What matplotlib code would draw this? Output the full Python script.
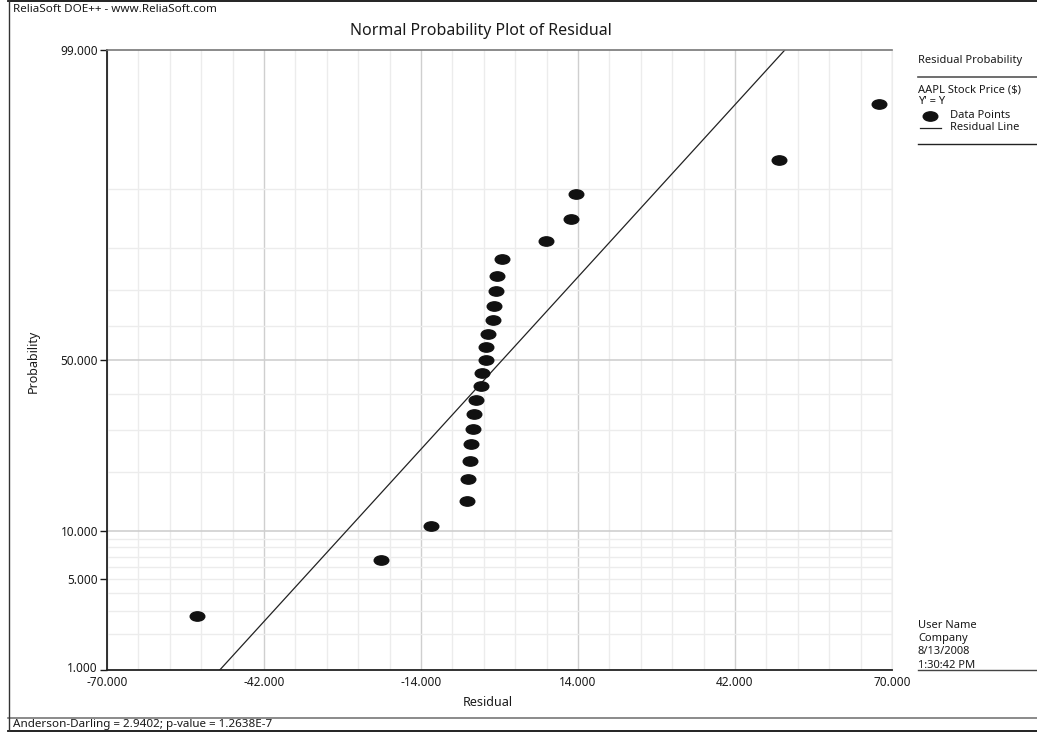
import numpy as np
import matplotlib
matplotlib.use("Agg")
import matplotlib.pyplot as plt
from matplotlib.lines import Line2D
from matplotlib.path import Path
from matplotlib.transforms import Affine2D, ScaledTranslation
from statistics import NormalDist

plt.rcParams['font.family'] = ['Noto Sans', 'DejaVu Sans']

# Residuals (x) and their median-rank probabilities in percent (y)
residuals = [-54.0, -21.1, -12.2, -5.8, -5.6, -5.3, -5.1, -4.7, -4.5, -4.2,
             -3.3, -3.1, -2.4, -2.4, -2.05, -1.2, -1.0, -0.6, -0.45, 0.45,
             8.3, 12.75, 13.6, 49.85, 67.7]
probabilities = [2.756, 6.693, 10.630, 14.567, 18.504, 22.441, 26.378, 30.315,
                 34.252, 38.189, 42.126, 46.063, 50.000, 53.937, 57.874,
                 61.811, 65.748, 69.685, 73.622, 77.559, 81.496, 85.433,
                 89.370, 93.307, 97.244]

# Fitted normal residual line
line_mean = 0.5
line_sd = 21.66

x_ticks = [-70, -42, -14, 14, 42, 70]
y_ticks = [1, 5, 10, 50, 99]
y_grid_minor = [2, 3, 4, 5, 6, 7, 8, 9, 20, 30, 40, 60, 70, 80, 90]
y_grid_major = [10, 50]

W, H = 1037, 732
fig = plt.figure(figsize=(W / 100, H / 100), dpi=100)

def fx(px):
    return px / W

def fy(py):
    return 1 - py / H

ax = fig.add_axes([fx(107), fy(670), (892 - 107) / W, (670 - 50) / H])

nd = NormalDist()
_ppf = np.vectorize(nd.inv_cdf, otypes=[float])
_cdf = np.vectorize(nd.cdf, otypes=[float])

def forward(p):
    p = np.clip(np.asarray(p, dtype=float), 1e-9, 100 - 1e-9)
    return _ppf(p / 100.0)

def inverse(z):
    return _cdf(np.asarray(z, dtype=float)) * 100.0

ax.set_yscale('function', functions=(forward, inverse))
ax.set_xlim(-70, 70)
ax.set_ylim(1, 99)

# Grid
light = '#ececec'
mid = '#cfcfcf'
for v in np.arange(-70, 70.01, 5.6):
    is_major = any(abs(v - t) < 1e-6 for t in x_ticks)
    ax.axvline(v, color=mid if is_major else light, lw=1.0, zorder=0)
for v in y_grid_minor:
    ax.axhline(v, color=light, lw=1.0, zorder=0)
for v in y_grid_major:
    ax.axhline(v, color=mid, lw=1.2, zorder=0)

# Residual line
xs = np.linspace(-70, 70, 400)
ps = inverse((xs - line_mean) / line_sd)
ax.plot(xs, ps, color='#222222', lw=0.9, zorder=2)

# Data points as flat ellipses
ellipse = Path.unit_circle().transformed(Affine2D().scale(1.0, 0.64))
ax.plot(residuals, probabilities, linestyle='none', marker=ellipse,
        markersize=10.5, color='#111111', zorder=3, clip_on=False)

ax.set_xticks(x_ticks)
ax.set_xticklabels([f"{t:.3f}" for t in x_ticks])
ax.set_yticks(y_ticks)
ax.set_yticklabels([f"{t:.3f}" for t in y_ticks])
ax.yaxis.set_minor_locator(matplotlib.ticker.NullLocator())
ax.xaxis.set_minor_locator(matplotlib.ticker.NullLocator())
ax.tick_params(axis='x', length=0, pad=4.5, labelsize=8.5, colors='#1a1a1a')
ax.tick_params(axis='y', length=5, width=1, pad=1.5, labelsize=8.5,
               colors='#1a1a1a', direction='out')

# Lift the lowest probability label a little above the corner
lowest = ax.get_yticklabels()[0]
lowest.set_transform(lowest.get_transform() +
                     ScaledTranslation(0, 2 / 72, fig.dpi_scale_trans))

for s in ['left', 'bottom']:
    ax.spines[s].set_color('#222222')
    ax.spines[s].set_linewidth(1.3)
ax.spines['top'].set_color('#777777')
ax.spines['top'].set_linewidth(1.2)
ax.spines['right'].set_color(light)

txt = dict(color='#1a1a1a')
fig.text(fx(13), fy(10), "ReliaSoft DOE++ - www.ReliaSoft.com", fontsize=8.4,
         ha='left', va='center', **txt)
fig.text(fx(481), fy(31), "Normal Probability Plot of Residual", fontsize=11.5,
         ha='center', va='center', **txt)
fig.text(fx(33), fy(361), "Probability", fontsize=9, rotation=90,
         ha='center', va='center', **txt)
fig.text(fx(488), fy(703), "Residual", fontsize=9, ha='center', va='center', **txt)

# Legend panel
lx = 918
fig.text(fx(lx), fy(61), "Residual Probability", fontsize=8, ha='left', va='center', **txt)
fig.add_artist(Line2D([fx(lx), fx(1037)], [fy(77), fy(77)], color='#555555', lw=1.2))
fig.text(fx(lx), fy(90), "AAPL Stock Price ($)", fontsize=8, ha='left', va='center', **txt)
fig.text(fx(lx), fy(102), "Y' = Y", fontsize=8, ha='left', va='center', **txt)
fig.add_artist(Line2D([fx(930)], [fy(116)], marker=ellipse, markersize=10.5,
                      color='#111111', linestyle='none'))
fig.text(fx(950), fy(116), "Data Points", fontsize=8, ha='left', va='center', **txt)
fig.add_artist(Line2D([fx(920), fx(941)], [fy(128), fy(128)], color='#222222', lw=0.9))
fig.text(fx(950), fy(128), "Residual Line", fontsize=8, ha='left', va='center', **txt)
fig.add_artist(Line2D([fx(lx), fx(1037)], [fy(144), fy(144)], color='#222222', lw=1.0))

for i, s in enumerate(["User Name", "Company", "8/13/2008", "1:30:42 PM"]):
    fig.text(fx(lx), fy(626 + 13 * i), s, fontsize=8, ha='left', va='center', **txt)
fig.add_artist(Line2D([fx(lx), fx(1037)], [fy(670), fy(670)], color='#444444', lw=1.0))

# Footer and outer frame
fig.text(fx(13), fy(724), "Anderson-Darling = 2.9402; p-value = 1.2638E-7",
         fontsize=8.4, ha='left', va='center', **txt)
fig.add_artist(Line2D([fx(8), fx(1037)], [fy(718), fy(718)], color='#777777', lw=1.2))
fig.add_artist(Line2D([fx(8), fx(1037)], [fy(730.5), fy(730.5)], color='#111111', lw=1.3))
fig.add_artist(Line2D([fx(8), fx(1037)], [fy(1), fy(1)], color='#111111', lw=1.3))
fig.add_artist(Line2D([fx(8.5), fx(8.5)], [fy(0), fy(732)], color='#333333', lw=1.0))

fig.savefig("out.png", dpi=100)
